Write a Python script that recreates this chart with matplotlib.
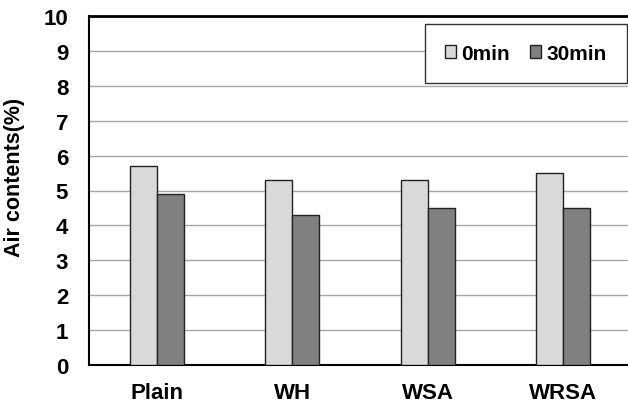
import numpy as np
import matplotlib
matplotlib.use("Agg")
import matplotlib.pyplot as plt

# data
categories = ["Plain", "WH", "WSA", "WRSA"]
air_0min = [5.7, 5.3, 5.3, 5.5]
air_30min = [4.9, 4.3, 4.5, 4.5]
series_labels = ["0min", "30min"]
y_ticks = list(range(0, 11))

plt.rcParams["font.family"] = ["Liberation Sans", "DejaVu Sans"]
plt.rcParams["font.weight"] = "bold"

fig = plt.figure(figsize=(6.28, 4.06), dpi=100)
# right edge of the plot area is cut off in the original
ax = fig.add_axes([89 / 628, 40 / 406, 542 / 628, 349 / 406])

x = np.arange(len(categories))
w = 0.2
ax.bar(x - w / 2, air_0min, w, color="#d9d9d9", edgecolor="#222222",
       linewidth=1.0, label=series_labels[0], zorder=3)
ax.bar(x + w / 2, air_30min, w, color="#808080", edgecolor="#222222",
       linewidth=1.0, label=series_labels[1], zorder=3)

ax.set_xlim(-0.504, 3.504)
ax.set_ylim(0, 10)
ax.set_yticks(y_ticks)
ax.set_xticks(x)
ax.set_xticklabels(categories, fontsize=16, fontweight="bold")
ax.set_yticklabels([str(t) for t in y_ticks], fontsize=16, fontweight="bold")
ax.tick_params(axis="both", length=0)
ax.tick_params(axis="y", pad=15)
ax.tick_params(axis="x", pad=12)
ax.set_ylabel("Air contents(%)", fontsize=15.5, fontweight="bold")
ax.yaxis.set_label_coords(-0.118, 0.54)

ax.yaxis.grid(True, color="#a6a6a6", linewidth=1.0, zorder=0)
ax.set_axisbelow(True)
ax.spines["top"].set_linewidth(2.0)
ax.spines["left"].set_linewidth(1.5)
ax.spines["bottom"].set_linewidth(1.5)
ax.spines["right"].set_visible(False)

leg = ax.legend(loc="upper left", bbox_to_anchor=(425 / 628, 1 - 25 / 406),
                bbox_transform=fig.transFigure, ncol=2, fancybox=False,
                framealpha=1, edgecolor="#333333", fontsize=15,
                handlelength=0.55, handleheight=0.55, handletextpad=0.25,
                columnspacing=0.95, borderpad=0.95, borderaxespad=0)
leg.get_frame().set_linewidth(1.0)
for t in leg.get_texts():
    t.set_fontweight("bold")

fig.savefig("out.png", dpi=100)
